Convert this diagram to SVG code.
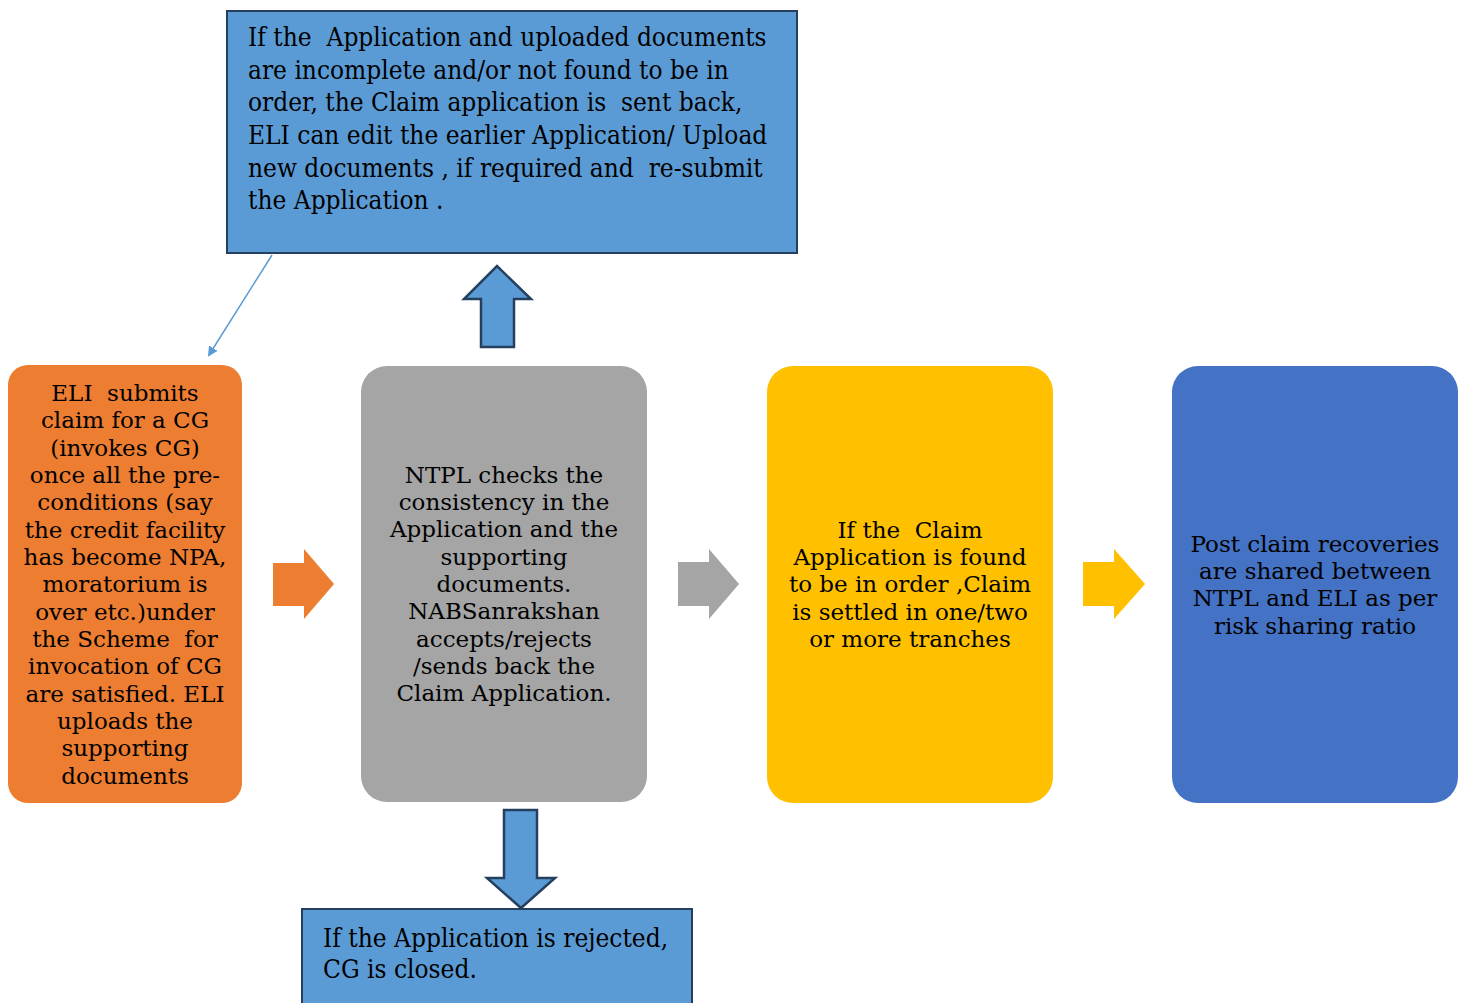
<svg xmlns="http://www.w3.org/2000/svg" width="1462" height="1003" viewBox="0 0 1462 1003" xml:space="preserve">
  <style>
    text { font-family: "DejaVu Serif Condensed", "DejaVu Serif", serif; font-stretch: condensed; fill: #000; white-space: pre; }
    .c { font-family: "DejaVu Serif", serif; font-stretch: normal; text-anchor: middle; font-size: 23px; }
    .l { font-size: 26px; }
    .note { fill: #5B9BD5; stroke: #24405E; stroke-width: 2; }
    .blk { fill: #5B9BD5; stroke: #24405E; stroke-width: 2.5; stroke-linejoin: miter; }
  </style>
  <defs>
    <marker id="tri" markerWidth="10" markerHeight="10" refX="8" refY="5" orient="auto" markerUnits="userSpaceOnUse">
      <path d="M0,0 L10,5 L0,10 Z" fill="#5B9BD5"/>
    </marker>
  </defs>
  <rect width="1462" height="1003" fill="#fff"/>

  <g id="sent-back">
    <rect class="note" x="227" y="11" width="570" height="242"/>
    <text class="l" x="248" y="46">If the  Application and uploaded documents</text>
    <text class="l" x="248" y="79">are incomplete and/or not found to be in</text>
    <text class="l" x="248" y="111">order, the Claim application is  sent back,</text>
    <text class="l" x="248" y="144">ELI can edit the earlier Application/ Upload</text>
    <text class="l" x="248" y="177">new documents , if required and  re-submit</text>
    <text class="l" x="248" y="209">the Application .</text>
  </g>

  <g id="eli-submits">
    <rect x="8" y="365" width="234" height="438" rx="20" fill="#ED7D31"/>
    <text class="c" x="125" y="401">ELI  submits</text>
    <text class="c" x="125" y="428">claim for a CG</text>
    <text class="c" x="125" y="456">(invokes CG)</text>
    <text class="c" x="125" y="483">once all the pre-</text>
    <text class="c" x="125" y="510">conditions (say</text>
    <text class="c" x="125" y="538">the credit facility</text>
    <text class="c" x="125" y="565">has become NPA,</text>
    <text class="c" x="125" y="592">moratorium is</text>
    <text class="c" x="125" y="620">over etc.)under</text>
    <text class="c" x="125" y="647">the Scheme  for</text>
    <text class="c" x="125" y="674">invocation of CG</text>
    <text class="c" x="125" y="702">are satisfied. ELI</text>
    <text class="c" x="125" y="729">uploads the</text>
    <text class="c" x="125" y="756">supporting</text>
    <text class="c" x="125" y="784">documents</text>
  </g>

  <g id="ntpl-checks">
    <rect x="361" y="366" width="286" height="436" rx="26" fill="#A5A5A5"/>
    <text class="c" x="504" y="483">NTPL checks the</text>
    <text class="c" x="504" y="510">consistency in the</text>
    <text class="c" x="504" y="537">Application and the</text>
    <text class="c" x="504" y="565">supporting</text>
    <text class="c" x="504" y="592">documents.</text>
    <text class="c" x="504" y="619">NABSanrakshan</text>
    <text class="c" x="504" y="647">accepts/rejects</text>
    <text class="c" x="504" y="674">/sends back the</text>
    <text class="c" x="504" y="701">Claim Application.</text>
  </g>

  <g id="claim-settled">
    <rect x="767" y="366" width="286" height="437" rx="26" fill="#FFC000"/>
    <text class="c" x="910" y="538">If the  Claim</text>
    <text class="c" x="910" y="565">Application is found</text>
    <text class="c" x="910" y="592">to be in order ,Claim</text>
    <text class="c" x="910" y="620">is settled in one/two</text>
    <text class="c" x="910" y="647">or more tranches</text>
  </g>

  <g id="recoveries">
    <rect x="1172" y="366" width="286" height="437" rx="26" fill="#4472C4"/>
    <text class="c" x="1315" y="552">Post claim recoveries</text>
    <text class="c" x="1315" y="579">are shared between</text>
    <text class="c" x="1315" y="606">NTPL and ELI as per</text>
    <text class="c" x="1315" y="634">risk sharing ratio</text>
  </g>

  <g id="rejected">
    <rect class="note" x="302" y="909" width="390" height="110"/>
    <text class="l" x="323" y="947">If the Application is rejected,</text>
    <text class="l" x="323" y="978">CG is closed.</text>
  </g>

  <g id="connectors">
    <line x1="272" y1="255" x2="209" y2="355" stroke="#5B9BD5" stroke-width="1.5" marker-end="url(#tri)"/>
    <path class="blk" d="M481,347 L481,299 L464,299 L497,266 L531,299 L514,299 L514,347 Z"/>
    <path class="blk" d="M504,810 L537,810 L537,878 L555,878 L521,908 L487,878 L504,878 Z"/>
    <path d="M273,563 L304,563 L304,549 L334,584 L304,619 L304,606 L273,606 Z" fill="#ED7D31"/>
    <path d="M678,562 L709,562 L709,549 L739,584 L709,619 L709,606 L678,606 Z" fill="#A5A5A5"/>
    <path d="M1083,562 L1114,562 L1114,549 L1145,584 L1114,619 L1114,606 L1083,606 Z" fill="#FFC000"/>
  </g>
</svg>
